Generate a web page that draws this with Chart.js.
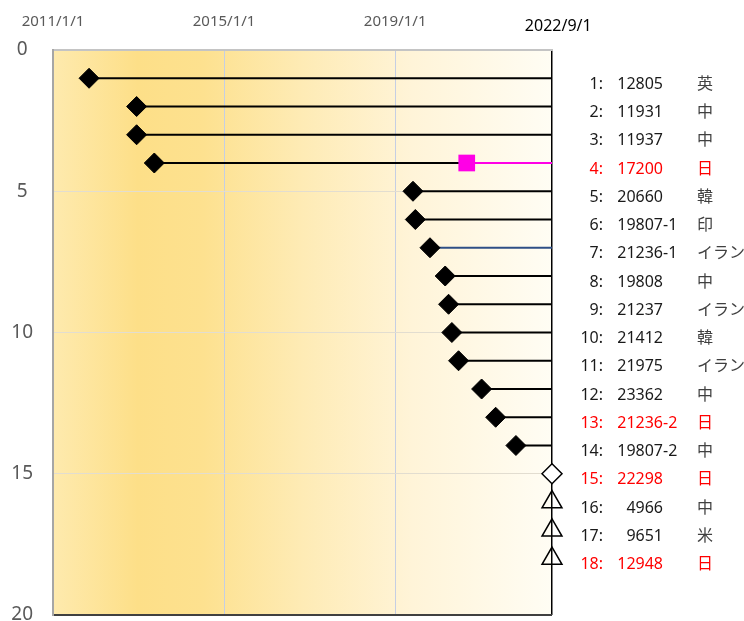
<!DOCTYPE html>
<html lang="ja">
<head>
<meta charset="utf-8">
<title>timeline</title>
<script src="https://cdn.jsdelivr.net/npm/chart.js@4.4.1/dist/chart.umd.min.js"></script>
<style>
  html, body { margin: 0; padding: 0; background: #fff; }
  #wrap { width: 744px; height: 621px; position: relative; }
</style>
</head>
<body>
<div id="wrap"><canvas id="timelineChart"></canvas></div>
<script>
// row data
const rowNos = [1, 2, 3, 4, 5, 6, 7, 8, 9, 10, 11, 12, 13, 14, 15, 16, 17, 18];
const startDates = [
  '2011-11-05', '2012-12-15', '2012-12-15', '2013-05-15', '2019-06-02', '2019-06-22',
  '2019-10-25', '2020-03-03', '2020-04-01', '2020-04-29', '2020-06-25', '2021-01-08',
  '2021-05-08', '2021-10-28', '2022-09-01', '2022-09-01', '2022-09-01', '2022-09-01'
];
const ids = [
  '12805', '11931', '11937', '17200', '20660', '19807-1', '21236-1', '19808', '21237',
  '21412', '21975', '23362', '21236-2', '19807-2', '22298', '4966', '9651', '12948'
];
const countries = [
  '英', '中', '中', '日', '韓', '印', 'イラン', '中', 'イラン',
  '韓', 'イラン', '中', '日', '中', '日', '中', '米', '日'
];
const redRows = [4, 13, 15, 18];
const triangleRows = [16, 17, 18];
const switchRow = 4;
const switchDate = '2020-09-03';
const blueRow = 7;
const endDate = '2022-09-01';
const xTickDates = ['2011-01-01', '2015-01-01', '2019-01-01', '2022-09-01'];
const yTicks = [0, 5, 10, 15, 20];

const FONT = '"Noto Sans", "Noto Sans CJK JP", sans-serif';
const ts = (d) => Date.parse(d + 'T00:00:00Z');

const fmtDate = (v) => {
  const d = new Date(v);
  return d.getUTCFullYear() + '/' + (d.getUTCMonth() + 1) + '/' + d.getUTCDate();
};

// markers first so they are drawn on top of the lines
const datasets = [];

datasets.push({
  data: [{ x: ts(switchDate), y: switchRow }],
  pointStyle: 'rect',
  pointRadius: 11.8,
  backgroundColor: '#FF00E6',
  borderColor: '#FF00E6',
  borderWidth: 0,
  clip: false
});

datasets.push({
  data: rowNos.map((row, i) => ({ x: ts(startDates[i]), y: row })),
  pointStyle: (ctx) => triangleRows.includes(ctx.raw.y) ? 'triangle' : 'rectRot',
  pointRadius: (ctx) => triangleRows.includes(ctx.raw.y) ? 11.5 : 10,
  backgroundColor: (ctx) => {
    const open = startDates[ctx.dataIndex] === endDate;
    if (!open) return '#000';
    return triangleRows.includes(ctx.raw.y) ? 'rgba(0,0,0,0)' : '#fff';
  },
  borderColor: '#000',
  borderWidth: (ctx) => startDates[ctx.dataIndex] === endDate ? 1.5 : 1,
  clip: false
});

rowNos.forEach((row, i) => {
  if (startDates[i] === endDate) return;
  const pts = [{ x: ts(startDates[i]), y: row }];
  if (row === switchRow) pts.push({ x: ts(switchDate), y: row });
  pts.push({ x: ts(endDate), y: row });
  datasets.push({
    data: pts,
    showLine: true,
    borderColor: row === blueRow ? '#2F4F86' : '#000',
    borderWidth: 2,
    pointRadius: 0,
    segment: {
      borderColor: (ctx) => (row === switchRow && ctx.p0DataIndex === 1) ? '#FF00E6' : undefined
    }
  });
});

// yellow gradient behind the plot
const bgPlugin = {
  id: 'bgGradient',
  beforeDraw(chart) {
    const { ctx, chartArea: a } = chart;
    const g = ctx.createLinearGradient(a.left, 0, a.right, 0);
    g.addColorStop(0, '#FEEAAE');
    g.addColorStop(0.17, '#FDDF88');
    g.addColorStop(0.3, '#FDE18F');
    g.addColorStop(0.5, '#FEEBB5');
    g.addColorStop(0.72, '#FFF4D8');
    g.addColorStop(1, '#FFFDF4');
    ctx.save();
    ctx.fillStyle = g;
    ctx.fillRect(a.left, a.top, a.width, a.height);
    ctx.restore();
  }
};

// labels on the right side of each row
const rowLabelPlugin = {
  id: 'rowLabels',
  afterDraw(chart) {
    const { ctx, chartArea: a } = chart;
    const yScale = chart.scales.y;
    ctx.save();
    ctx.font = '16px ' + FONT;
    ctx.textBaseline = 'middle';
    rowNos.forEach((row, i) => {
      const y = yScale.getPixelForValue(row) + 6;
      const red = redRows.includes(row);
      const col = red ? '#FF0000' : '#1A1A1A';
      const [base, suffix] = ids[i].split('-');

      ctx.fillStyle = col;
      ctx.textAlign = 'right';
      ctx.fillText(row + ':', a.right + 51, y);
      ctx.fillText(base, a.right + 111, y);
      if (suffix) {
        ctx.textAlign = 'left';
        ctx.fillText('-' + suffix, a.right + 111, y);
      }
      ctx.textAlign = 'left';
      ctx.fillStyle = red ? '#FF0000' : '#404040';
      ctx.fillText(countries[i], a.right + 145, y);
    });
    ctx.restore();
  }
};

const lastX = xTickDates.length - 1;

// keep the plot box fixed, whatever the tick labels need
const fixPadding = (scale) => {
  scale.paddingTop = 0;
  scale.paddingBottom = 0;
  scale.paddingLeft = 0;
  scale.paddingRight = 0;
};

new Chart(document.getElementById('timelineChart'), {
  type: 'scatter',
  data: { datasets },
  plugins: [bgPlugin, rowLabelPlugin],
  options: {
    responsive: true,
    maintainAspectRatio: false,
    animation: false,
    events: [],
    layout: { autoPadding: false, padding: { right: 192, bottom: 6, left: 0, top: 0 } },
    plugins: { legend: { display: false }, tooltip: { enabled: false } },
    scales: {
      x: {
        type: 'linear',
        position: 'top',
        min: ts(xTickDates[0]),
        max: ts(endDate),
        afterBuildTicks: (scale) => {
          scale.ticks = xTickDates.map((d) => ({ value: ts(d) }));
        },
        afterFit: (scale) => { scale.height = 50; fixPadding(scale); },
        ticks: {
          autoSkip: false,
          maxRotation: 0,
          padding: 19,
          callback: (v, idx) => (idx === lastX ? '   ' : '') + fmtDate(v),
          color: (ctx) => ctx.index === lastX ? '#000' : '#595959',
          font: (ctx) => ctx.index === lastX
            ? { family: FONT, size: 16, lineHeight: 0.61 }
            : { family: FONT, size: 15, lineHeight: 1.2 }
        },
        grid: {
          drawTicks: false,
          color: (ctx) => {
            if (ctx.index === 0) return 'rgba(0,0,0,0)';
            if (ctx.index === lastX) return '#000';
            return '#C5CEE3';
          },
          lineWidth: (ctx) => ctx.index === lastX ? 1.5 : 1
        },
        border: { color: '#C4C4C4', width: 1.5 }
      },
      y: {
        min: 0,
        max: 20,
        reverse: true,
        afterBuildTicks: (scale) => {
          scale.ticks = yTicks.map((v) => ({ value: v }));
        },
        afterFit: (scale) => { scale.width = 53; fixPadding(scale); },
        ticks: {
          padding: 20,
          crossAlign: 'center',
          color: '#595959',
          font: { family: FONT, size: 19 }
        },
        grid: {
          drawTicks: false,
          color: (ctx) => {
            const v = ctx.tick.value;
            if (v === 0) return '#C4C4C4';
            if (v === 20) return '#404040';
            return '#E2DDD0';
          },
          lineWidth: (ctx) => ctx.tick.value === 20 ? 2 : 1
        },
        border: { color: '#A6A6A6', width: 2 }
      }
    }
  }
});
</script>
</body>
</html>
